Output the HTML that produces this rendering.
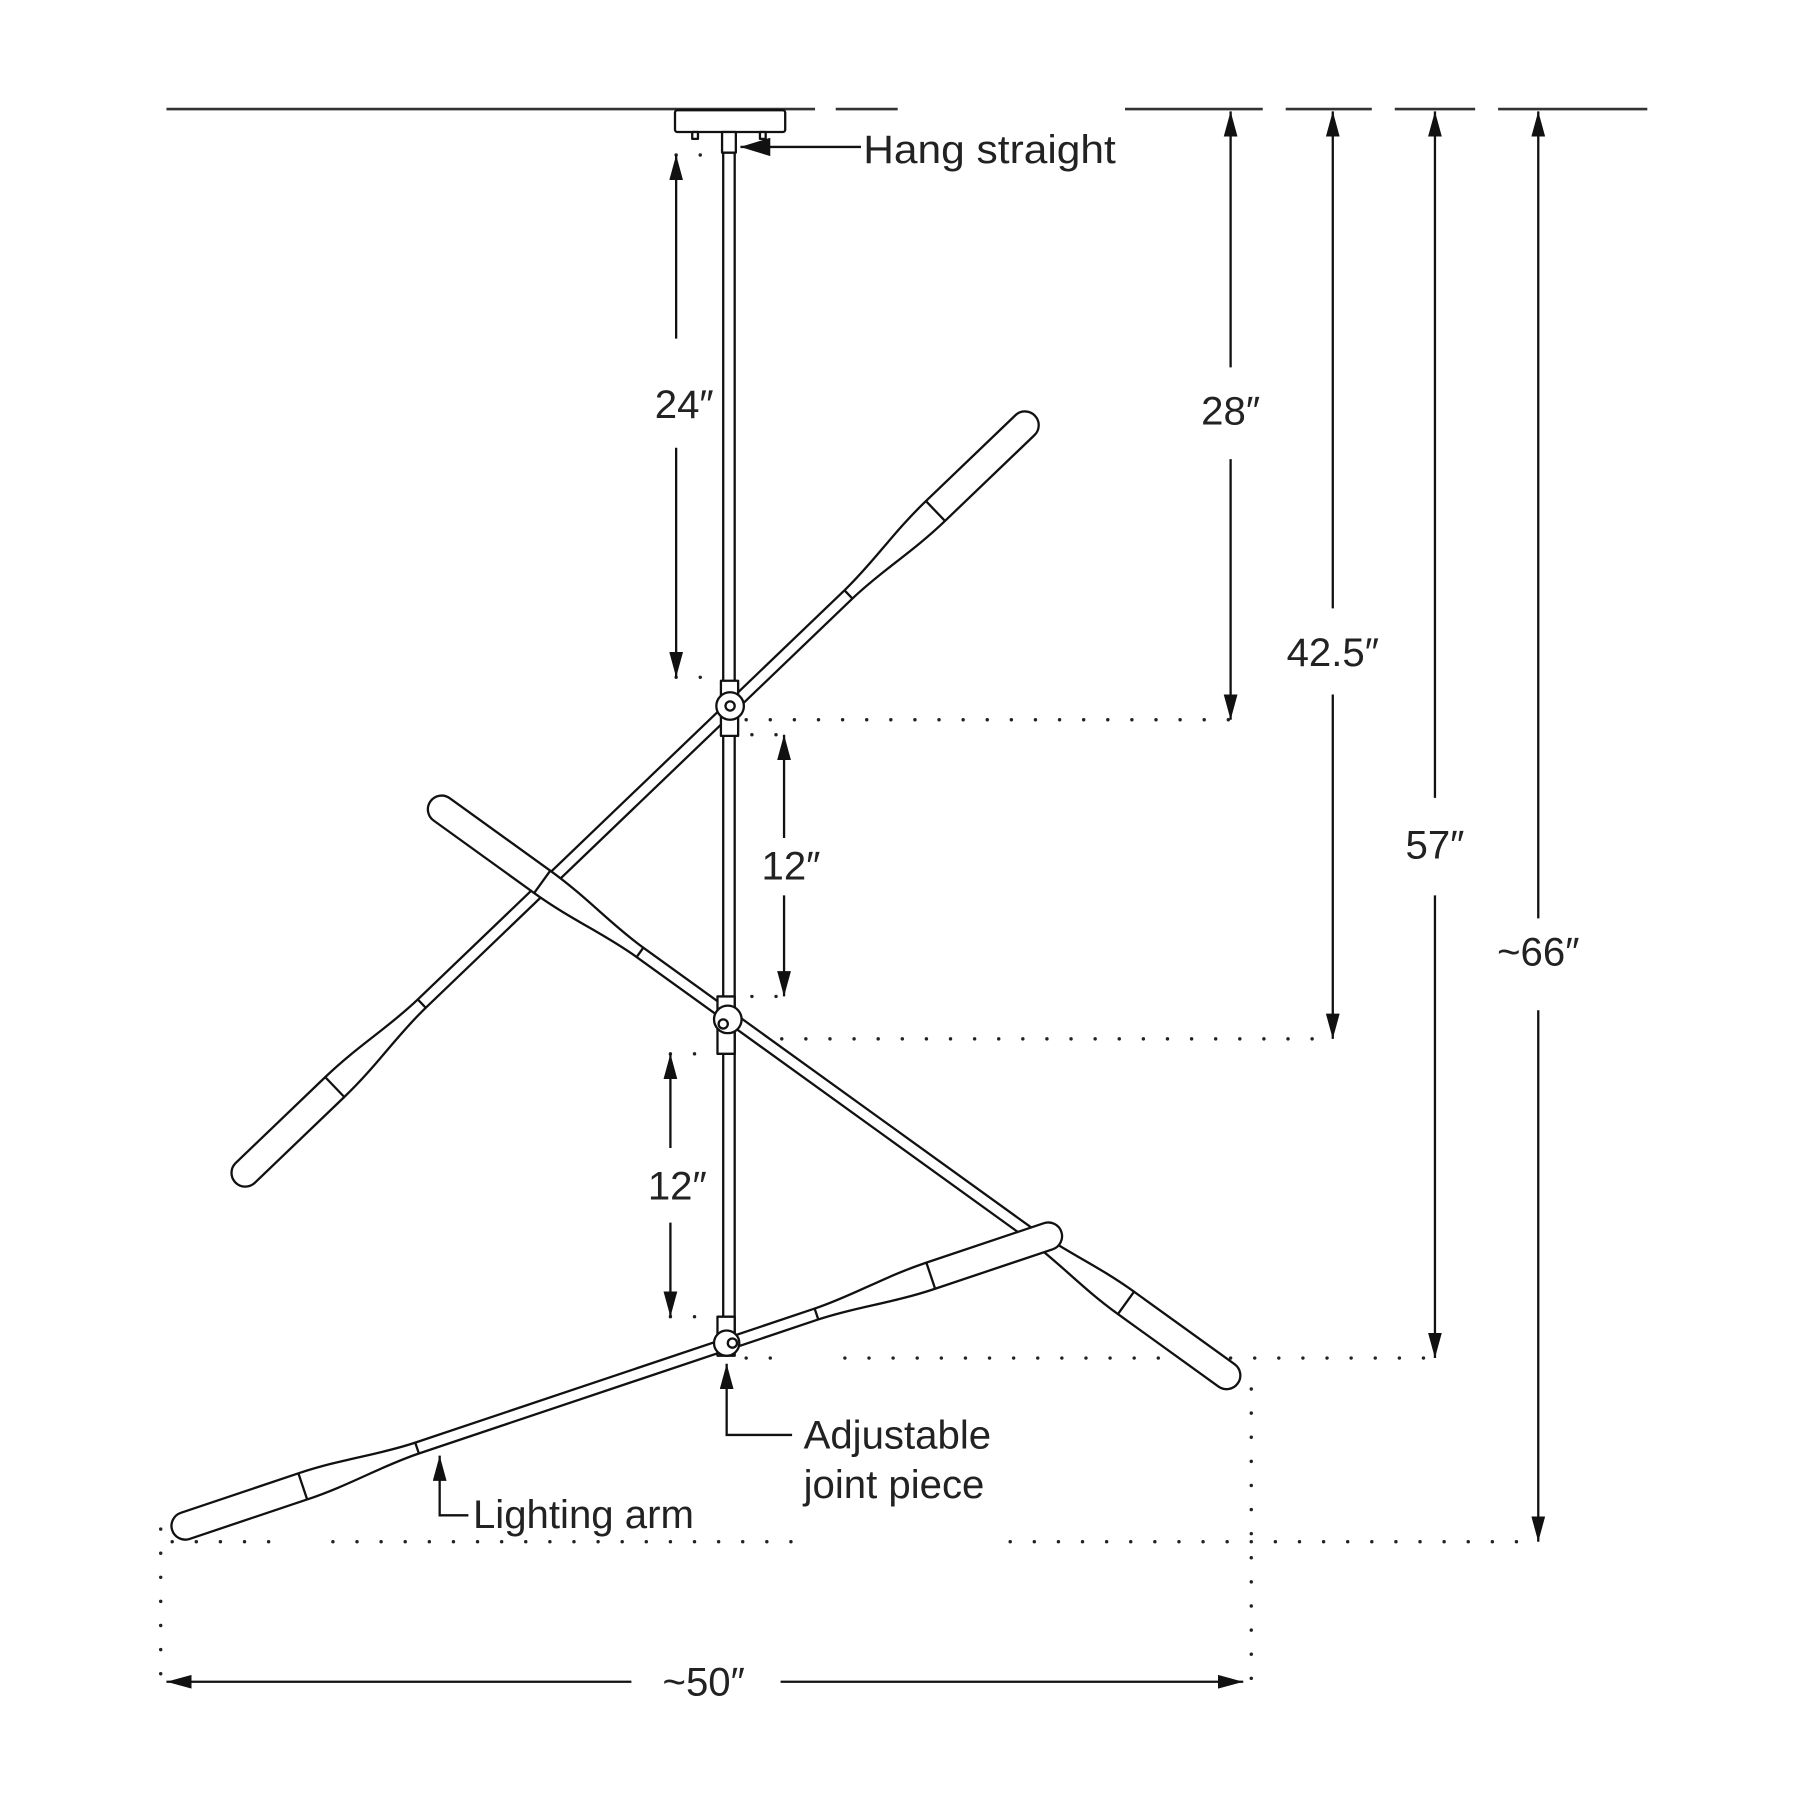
<!DOCTYPE html>
<html><head><meta charset="utf-8"><style>
html,body{margin:0;padding:0;background:#fff;}
svg{display:block;}
text{font-family:"Liberation Sans",sans-serif;fill:#222;}
</style></head><body>
<svg width="1800" height="1800" viewBox="0 0 1568 1568" xmlns="http://www.w3.org/2000/svg">
<defs>
<marker id="ah" viewBox="0 0 22 12" refX="22" refY="6" markerWidth="22" markerHeight="12" markerUnits="userSpaceOnUse" orient="auto">
<path d="M0,0 L22,6 L0,12 Z" fill="#111"/>
</marker>
<marker id="ahb" viewBox="0 0 26 16" refX="26" refY="8" markerWidth="26" markerHeight="16" markerUnits="userSpaceOnUse" orient="auto">
<path d="M0,0 L26,8 L0,16 Z" fill="#111"/>
</marker>
</defs>
<rect width="1568" height="1568" fill="#fff"/>

<g stroke="#333" stroke-width="2.2">
<line x1="145" y1="95" x2="710" y2="95"/>
<line x1="728" y1="95" x2="782" y2="95"/>
<line x1="980" y1="95" x2="1100" y2="95"/>
<line x1="1120" y1="95" x2="1195" y2="95"/>
<line x1="1215" y1="95" x2="1285" y2="95"/>
<line x1="1305" y1="95" x2="1435" y2="95"/>
</g>

<g stroke="#222" stroke-width="3" stroke-linecap="round" stroke-dasharray="0 21" fill="none">
<line x1="589" y1="135" x2="625" y2="135"/>
<line x1="589" y1="590" x2="625" y2="590"/>
<line x1="650" y1="627" x2="1072" y2="627"/>
<line x1="655" y1="640" x2="683" y2="640"/>
<line x1="655" y1="868" x2="683" y2="868"/>
<line x1="660" y1="905" x2="1161" y2="905"/>
<line x1="584" y1="918" x2="625" y2="918"/>
<line x1="584" y1="1147" x2="625" y2="1147"/>
<line x1="650" y1="1183" x2="680" y2="1183"/>
<line x1="736" y1="1183" x2="1250" y2="1183"/>
<line x1="150" y1="1343" x2="240" y2="1343"/>
<line x1="290" y1="1343" x2="695" y2="1343"/>
<line x1="880" y1="1343" x2="1340" y2="1343"/>
<line x1="140" y1="1332" x2="140" y2="1465"/>
<line x1="1090" y1="1210" x2="1090" y2="1465"/>
</g>

<g stroke="#111" stroke-width="2" fill="none">
<line x1="589" y1="295" x2="589" y2="135" marker-end="url(#ah)"/>
<line x1="589" y1="390" x2="589" y2="590" marker-end="url(#ah)"/>
<line x1="1072" y1="320" x2="1072" y2="97" marker-end="url(#ah)"/>
<line x1="1072" y1="400" x2="1072" y2="627" marker-end="url(#ah)"/>
<line x1="683" y1="730" x2="683" y2="640" marker-end="url(#ah)"/>
<line x1="683" y1="780" x2="683" y2="868" marker-end="url(#ah)"/>
<line x1="1161" y1="530" x2="1161" y2="97" marker-end="url(#ah)"/>
<line x1="1161" y1="605" x2="1161" y2="905" marker-end="url(#ah)"/>
<line x1="584" y1="1000" x2="584" y2="918" marker-end="url(#ah)"/>
<line x1="584" y1="1065" x2="584" y2="1147" marker-end="url(#ah)"/>
<line x1="1250" y1="695" x2="1250" y2="97" marker-end="url(#ah)"/>
<line x1="1250" y1="780" x2="1250" y2="1183" marker-end="url(#ah)"/>
<line x1="1340" y1="800" x2="1340" y2="97" marker-end="url(#ah)"/>
<line x1="1340" y1="880" x2="1340" y2="1343" marker-end="url(#ah)"/>
<line x1="550" y1="1465" x2="145" y2="1465" marker-end="url(#ah)"/>
<line x1="680" y1="1465" x2="1083" y2="1465" marker-end="url(#ah)"/>
<polyline points="750,128 645,128" marker-end="url(#ahb)"/>
<polyline points="690,1250 633,1250 633,1188" marker-end="url(#ah)"/>
<polyline points="408,1320 383,1320 383,1268" marker-end="url(#ah)"/>
</g>

<g font-size="35" text-anchor="middle">
<text x="596" y="364">24″</text>
<text x="1072" y="370">28″</text>
<text x="689" y="766">12″</text>
<text x="1161" y="580">42.5″</text>
<text x="590" y="1045">12″</text>
<text x="1250" y="748">57″</text>
<text x="1340" y="841">~66″</text>
<text x="613" y="1477">~50″</text>
</g>
<g font-size="35">
<text x="752" y="142" textLength="220" lengthAdjust="spacingAndGlyphs">Hang straight</text>
<text x="700" y="1262">Adjustable</text>
<text x="700" y="1305">joint piece</text>
<text x="412" y="1331">Lighting arm</text>
</g>

<g stroke="#111" stroke-width="2" fill="#fff" stroke-linejoin="round">
<g transform="translate(205,1030) rotate(-43.8)">
<path d="M12,-12 L120,-12 C160,-12 190,-5 225,-5 L740,-5 C775,-5 805,-12 845,-12 L953,-12 A12,12 0 0 1 953,12 L845,12 C805,12 775,5 740,5 L225,5 C190,5 160,12 120,12 L12,12 A12,12 0 0 1 12,-12 Z"/>
<path d="M120,-12 L120,12 M225,-5 L225,5 M740,-5 L740,5 M845,-12 L845,12" fill="none"/>
</g>
<g transform="translate(375,698) rotate(35.8)">
<path d="M12,-12 L120,-12 C160,-12 190,-5 225,-5 L642,-5 C677,-5 707,-12 747,-12 L855,-12 A12,12 0 0 1 855,12 L747,12 C707,12 677,5 642,5 L225,5 C190,5 160,12 120,12 L12,12 A12,12 0 0 1 12,-12 Z"/>
<path d="M120,-12 L120,12 M225,-5 L225,5 M642,-5 L642,5 M747,-12 L747,12" fill="none"/>
</g>
<g transform="translate(150,1333) rotate(-18.55)">
<path d="M12,-12 L120,-12 C160,-12 190,-5 225,-5 L592,-5 C627,-5 657,-12 697,-12 L805,-12 A12,12 0 0 1 805,12 L697,12 C657,12 627,5 592,5 L225,5 C190,5 160,12 120,12 L12,12 A12,12 0 0 1 12,-12 Z"/>
<path d="M120,-12 L120,12 M225,-5 L225,5 M592,-5 L592,5 M697,-12 L697,12" fill="none"/>
</g>

<rect x="588" y="96" width="96" height="19" rx="2"/>
<rect x="603" y="115" width="5" height="6"/>
<rect x="662" y="115" width="5" height="6"/>
<rect x="629" y="115" width="12" height="18"/>
<rect x="630" y="133" width="10" height="1040"/>

<rect x="628" y="593" width="15" height="48"/>
<circle cx="636" cy="615" r="12"/>
<circle cx="636" cy="615" r="4"/>
<rect x="625" y="868" width="15" height="50"/>
<circle cx="634" cy="888" r="12"/>
<circle cx="630" cy="892" r="4"/>
<rect x="625" y="1147" width="15" height="34"/>
<circle cx="633" cy="1170" r="11"/>
<circle cx="638" cy="1170" r="4"/>
</g>
</svg>
</body></html>
